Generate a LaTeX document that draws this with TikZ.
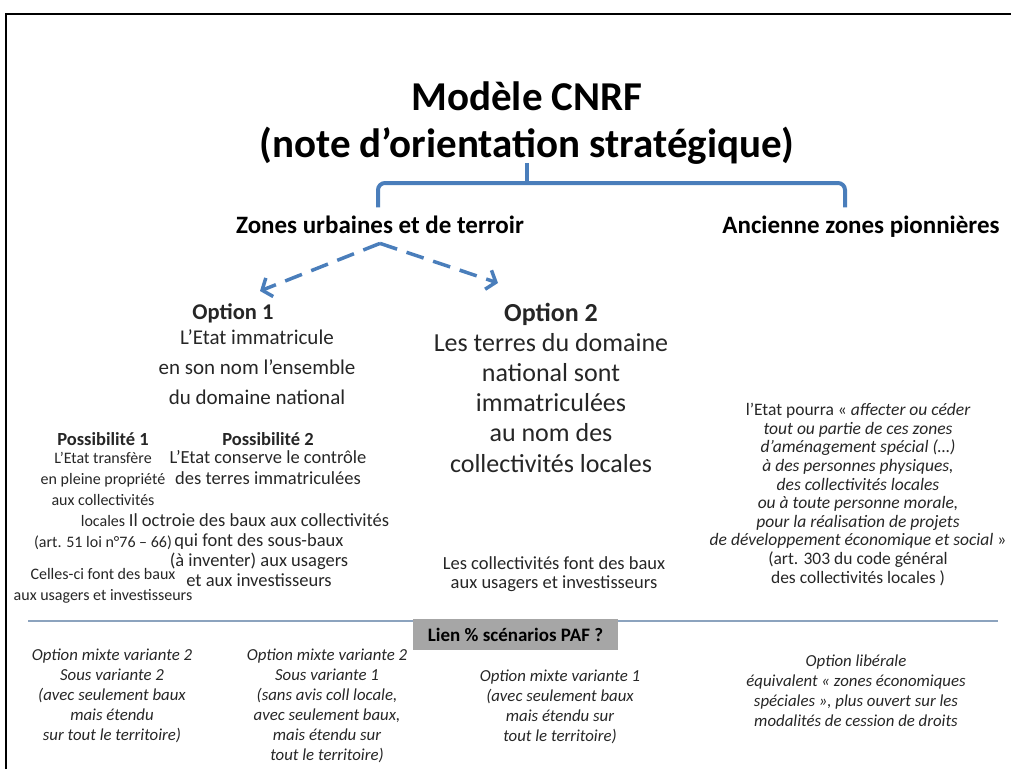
\documentclass[tikz,border=0pt]{standalone}
\usepackage{fontspec}
\setmainfont{Carlito}
\usetikzlibrary{arrows.meta, calc}
\definecolor{cnrfbleu}{RGB}{74, 126, 187}
\definecolor{cnrfgris}{RGB}{166, 166, 166}
\definecolor{cnrfligne}{RGB}{140, 163, 190}
\definecolor{encre}{RGB}{38, 38, 38}

\begin{document}
\begin{tikzpicture}[x=1pt, y=-1pt,
    titre/.style={font=\fontsize{41}{47}\selectfont\bfseries, align=center,
                  anchor=base, inner sep=0pt},
    entete/.style={font=\fontsize{25}{30}\selectfont\bfseries, anchor=base, inner sep=0pt},
    option/.style={font=\fontsize{21}{30}\selectfont, align=center,
                   anchor=base, inner sep=0pt, text=encre},
    petit/.style={font=\fontsize{18.5}{21}\selectfont, align=center,
                  anchor=base, inner sep=0pt, text=encre},
    ital/.style={font=\fontsize{17.5}{18.6}\selectfont\itshape, align=center,
                 anchor=base, inner sep=0pt, text=encre},
    bas/.style={font=\fontsize{16.8}{20}\selectfont\itshape, align=center,
                anchor=base, inner sep=0pt, text=encre},
    accolade/.style={cnrfbleu, line width=4pt, rounded corners=7pt},
    arr/.style={-{Straight Barb[length=8pt,width=20pt]}, cnrfbleu, line width=3.5pt,
                dash pattern=on 18pt off 10pt},
]
\useasboundingbox (0,0) rectangle (1011,769);
\draw[line width=2.5pt] (6,769) -- (6,14) -- (1011,14);

% titre et branches
\node[titre] (titre) at (527,157) {Modèle CNRF\\(note d’orientation stratégique)};
\node[entete] (urb) at (380,233) {Zones urbaines et de terroir};
\node[entete] (anc) at (861,233) {Ancienne zones pionnières};

\coordinate (tete) at (527,163);
\coordinate (pied) at (527,183);
\coordinate (bg) at ($(urb.north)+(-2,-8)$);
\coordinate (bd) at ($(anc.north)+(-16,-8)$);
\draw[accolade] (bg) |- (pied) -| (bd);
\draw[accolade] (tete) -- (pied);

% options
\node[option, font=\fontsize{22.5}{30}\selectfont\bfseries] (opt1) at (233,319) {Option 1};
\node[option] (etat) at (257,404) {L’Etat immatricule\\en son nom l’ensemble\\du domaine national};
\node[option, font=\fontsize{26}{30.2}\selectfont] (opt2) at (551,472) {\textbf{Option 2}\\Les terres du domaine\\national sont\\immatriculées\\au nom des\\collectivités locales};

\coordinate (apex) at ($(urb.south)+(0,10)$);
\coordinate (g) at (260,291);
\coordinate (d) at (498,283);
\draw[arr] (apex) -- (g);
\draw[arr] (apex) -- (d);

% possibilites
\node[petit, font=\fontsize{16}{21}\selectfont] (poss1) at (103,600) {{\fontsize{18.5}{21}\selectfont\bfseries Possibilité 1}\\[-3pt]L’Etat transfère\\en pleine propriété\\aux collectivités\\locales\\(art. 51 loi n°76 – 66)\\[11pt]Celles-ci font des baux\\aux usagers et investisseurs};
\node[petit] (poss2) at (268,484) {{\bfseries Possibilité 2}\\[-3pt]L’Etat conserve le contrôle\\des terres immatriculées};
\node[petit, font=\fontsize{18.5}{20}\selectfont] (octroi) at (259,586) {Il octroie des baux aux collectivités\\qui font des sous-baux\\(à inventer) aux usagers\\et aux investisseurs};
\node[petit, font=\fontsize{18.5}{19}\selectfont] (coll) at (554,588) {Les collectivités font des baux\\aux usagers et investisseurs};

\node[ital] (zas) at (858,583) {{\upshape l'Etat pourra «} affecter ou céder\\tout ou partie de ces zones\\d'aménagement spécial (…)\\à des personnes physiques,\\des collectivités locales\\ou à toute personne morale,\\pour la réalisation de projets\\de développement économique et social {\upshape »}\\{\upshape (art. 303 du code général}\\{\upshape des collectivités locales )}};

% scenarios
\draw[cnrfligne, line width=1.5pt] (28,621) -- (998,621);
\node[fill=cnrfgris, minimum width=205pt, minimum height=31pt,
      font=\fontsize{19}{22}\selectfont\bfseries] (paf) at (515.5,634.5) {Lien \% scénarios PAF ?};

\node[bas] (mixte22) at (112,740) {Option mixte variante 2\\Sous variante 2\\(avec seulement baux\\mais étendu\\sur tout le territoire)};
\node[bas] (mixte21) at (327,760) {Option mixte variante 2\\Sous variante 1\\(sans avis coll locale,\\avec seulement baux,\\mais étendu sur\\tout le territoire)};
\node[bas] (mixte1) at (560,741) {Option mixte variante 1\\(avec seulement baux\\mais étendu sur\\tout le territoire)};
\node[bas, font=\fontsize{16.8}{19.7}\selectfont\itshape] (liberale) at (856,726) {Option libérale\\équivalent « zones économiques\\spéciales », plus ouvert sur les\\modalités de cession de droits};

\end{tikzpicture}
\end{document}
